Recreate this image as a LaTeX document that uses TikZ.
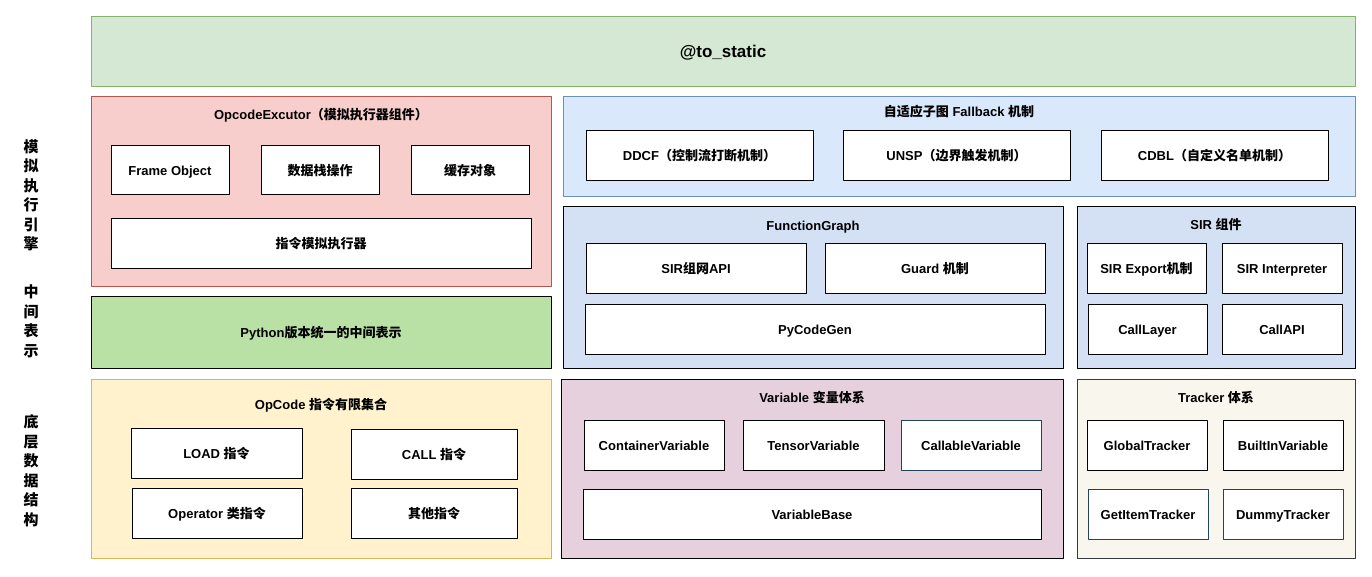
\documentclass[tikz,border=0pt]{standalone}
\usepackage{fontspec}
\setmainfont{Liberation Sans}
\newfontfamily\cjk{Noto Sans CJK SC}
\newcommand{\zh}[1]{{\cjk #1}}
\definecolor{grnfill}{HTML}{D5E8D4}
\definecolor{grnline}{HTML}{82B366}
\definecolor{redfill}{HTML}{F8CECC}
\definecolor{redline}{HTML}{B85450}
\definecolor{pyfill}{HTML}{B9E0A5}
\definecolor{yelfill}{HTML}{FFF2CC}
\definecolor{yelline}{HTML}{D6B656}
\definecolor{blufill}{HTML}{DAE8FC}
\definecolor{bluline}{HTML}{6C8EBF}
\definecolor{sirfill}{HTML}{D4E1F5}
\definecolor{varfill}{HTML}{E6D0DE}
\definecolor{trkfill}{HTML}{F9F7ED}
\definecolor{trkline}{HTML}{36393D}
\definecolor{navline}{HTML}{23445D}
\tikzset{
	grp/.style={draw,line width=1pt,inner sep=0pt},
	item/.style={draw=black,fill=white,line width=1pt,inner sep=0pt,minimum height=50pt,text height=11pt,text depth=0pt,font=\bfseries\fontsize{13}{15}\selectfont},
	ttl/.style={text height=11pt,text depth=0pt,font=\bfseries\fontsize{13}{15}\selectfont},
	side/.style={align=center,font=\bfseries\fontsize{15}{19.5}\selectfont}
}

\begin{document}
\begin{tikzpicture}[line cap=round,line join=round,x=1pt,y=-1pt]
		\useasboundingbox (0,0) rectangle (1372,576);
		% side labels
		\node[side] (eng) at (31,195.5) {\zh{模}\\\zh{拟}\\\zh{执}\\\zh{行}\\\zh{引}\\\zh{擎}};
		\node[side] (mid) at (31,321.5) {\zh{中}\\\zh{间}\\\zh{表}\\\zh{示}};
		\node[side] (low) at (31,470.5) {\zh{底}\\\zh{层}\\\zh{数}\\\zh{据}\\\zh{结}\\\zh{构}};
		% top
		\node[grp,fill=grnfill,draw=grnline,minimum width=1264pt,minimum height=70pt,text height=12pt,text depth=0pt,font=\bfseries\fontsize{17}{19}\selectfont] (static) at (723,51) {@to\_static};
		% OpcodeExcutor
		\node[grp,fill=redfill,draw=redline,minimum width=460pt,minimum height=190pt] (opx) at (321,191) {};
		\node[ttl] (opxt) at (321,114) {OpcodeExcutor\zh{（模拟执行器组件）}};
		\node[item,minimum width=118pt,minimum height=49pt] (frame) at (170,169.5) {Frame Object};
		\node[item,minimum width=118pt,minimum height=49pt] (stack) at (320,169.5) {\zh{数据栈操作}};
		\node[item,minimum width=118pt,minimum height=49pt] (cache) at (470,169.5) {\zh{缓存对象}};
		\node[item,minimum width=420pt] (sim) at (321,243) {\zh{指令模拟执行器}};
		% IR
		\node[grp,fill=pyfill,draw=black,minimum width=460pt,minimum height=72pt,ttl] (pyir) at (321,332) {Python\zh{版本统一的中间表示}};
		% OpCode
		\node[grp,fill=yelfill,draw=yelline,minimum width=460pt,minimum height=179pt] (opc) at (321,468.5) {};
		\node[ttl] (opct) at (321,404) {OpCode \zh{指令有限集合}};
		\node[item,minimum width=171pt] (load) at (216.5,453) {LOAD \zh{指令}};
		\node[item,minimum width=166pt] (call) at (434,454) {CALL \zh{指令}};
		\node[item,minimum width=170pt] (oper) at (217,513) {Operator \zh{类指令}};
		\node[item,minimum width=166pt] (other) at (434,513) {\zh{其他指令}};
		% Fallback
		\node[grp,fill=blufill,draw=bluline,minimum width=792pt,minimum height=100pt] (fb) at (959,146) {};
		\node[ttl] (fbt) at (959,111) {\zh{自适应子图} Fallback \zh{机制}};
		\node[item,minimum width=227pt] (ddcf) at (699.5,155) {DDCF\zh{（控制流打断机制）}};
		\node[item,minimum width=227pt] (unsp) at (956.5,155) {UNSP\zh{（边界触发机制）}};
		\node[item,minimum width=227pt] (cdbl) at (1214.5,155) {CDBL\zh{（自定义名单机制）}};
		% FunctionGraph
		\node[grp,fill=sirfill,draw=black,minimum width=500pt,minimum height=162pt] (fg) at (813,287) {};
		\node[ttl] (fgt) at (813,225) {FunctionGraph};
		\node[item,minimum width=220pt] (sirapi) at (696,268) {SIR\zh{组网}API};
		\node[item,minimum width=220pt] (guard) at (935,268) {Guard \zh{机制}};
		\node[item,minimum width=460pt] (pycg) at (815,329) {PyCodeGen};
		% SIR
		\node[grp,fill=sirfill,draw=black,minimum width=278pt,minimum height=162pt] (sir) at (1216,287) {};
		\node[ttl] (sirt) at (1216,224) {SIR \zh{组件}};
		\node[item,minimum width=119pt] (export) at (1146.5,268) {SIR Export\zh{机制}};
		\node[item,minimum width=120pt] (interp) at (1282,268) {SIR Interpreter};
		\node[item,minimum width=119pt] (clayer) at (1147.5,329) {CallLayer};
		\node[item,minimum width=120pt] (capi) at (1282,329) {CallAPI};
		% Variable
		\node[grp,fill=varfill,draw=black,minimum width=502pt,minimum height=179pt] (var) at (812,468.5) {};
		\node[ttl] (vart) at (812,397) {Variable \zh{变量体系}};
		\node[item,minimum width=140pt] (contv) at (654,445) {ContainerVariable};
		\node[item,minimum width=141pt] (tenv) at (813.5,445) {TensorVariable};
		\node[item,draw=navline,minimum width=140pt] (callv) at (971,445) {CallableVariable};
		\node[item,minimum width=458pt] (vbase) at (812,514) {VariableBase};
		% Tracker
		\node[grp,fill=trkfill,draw=trkline,minimum width=278pt,minimum height=179pt] (trk) at (1216,468.5) {};
		\node[ttl] (trkt) at (1216,397) {Tracker \zh{体系}};
		\node[item,minimum width=120pt] (glob) at (1147,445) {GlobalTracker};
		\node[item,minimum width=120pt] (bltn) at (1283,445) {BuiltInVariable};
		\node[item,draw=navline,minimum width=120pt] (gitem) at (1148,514) {GetItemTracker};
		\node[item,draw=navline,minimum width=120pt] (dummy) at (1283,514) {DummyTracker};
\end{tikzpicture}
\end{document}
